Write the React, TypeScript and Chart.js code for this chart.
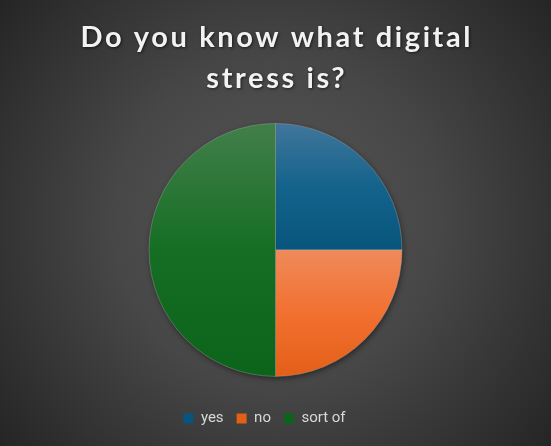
import React, { useEffect, useRef } from "react";
import { Chart, registerables } from "chart.js";

Chart.register(...registerables);

const titleLines = ["Do you know what digital", "stress is?"];
const categories = ["yes", "no", "sort of"];
const values = [25, 25, 50];
const topColors = ["#41769b", "#ef8a5b", "#427f4a"];
const midColors = ["#14638c", "#f27030", "#166e24"];
const bottomColors = ["#07557c", "#e35f18", "#0c631a"];

const W = 551;
const H = 446;

const bgPlugin = {
  id: "bg",
  afterLayout(chart: any) {
    const lg = chart.legend;
    if (lg) {
      lg.left -= 11;
      lg.right -= 11;
    }
  },
  beforeDraw(chart: any) {
    const { ctx } = chart;
    ctx.save();
    const g = ctx.createRadialGradient(W / 2, H / 2, 0, W / 2, H / 2, 360);
    g.addColorStop(0, "#575757");
    g.addColorStop(0.45, "#474747");
    g.addColorStop(1, "#242424");
    ctx.fillStyle = g;
    ctx.fillRect(0, 0, W, H);
    ctx.restore();
  },
  beforeDatasetsDraw(chart: any) {
    const meta = chart.getDatasetMeta(0);
    const arc = meta.data[0];
    if (!arc) return;
    const { ctx } = chart;
    ctx.save();
    ctx.shadowColor = "rgba(0,0,0,0.55)";
    ctx.shadowBlur = 6;
    ctx.shadowOffsetX = 1;
    ctx.shadowOffsetY = 2;
    ctx.fillStyle = "#333";
    ctx.beginPath();
    ctx.arc(arc.x, arc.y, arc.outerRadius - 0.5, 0, Math.PI * 2);
    ctx.fill();
    ctx.restore();
  },
  afterDraw(chart: any) {
    const { ctx } = chart;
    ctx.save();
    ctx.font = "bold 29px Lato";
    ctx.textAlign = "center";
    ctx.textBaseline = "alphabetic";
    const ls = 2.6;
    (ctx as any).letterSpacing = ls + "px";
    ctx.shadowColor = "rgba(0,0,0,0.6)";
    ctx.shadowBlur = 3;
    ctx.shadowOffsetX = 1;
    ctx.shadowOffsetY = 1;
    ctx.fillStyle = "#f2f2f2";
    titleLines.forEach((t, i) => {
      ctx.fillText(t, W / 2 + ls / 2, 47 + i * 41);
    });
    ctx.restore();
  },
};

function sliceExtent(i: number) {
  const total = values.reduce((a, b) => a + b, 0);
  let start = -Math.PI / 2;
  for (let k = 0; k < i; k++) start += (values[k] / total) * Math.PI * 2;
  const end = start + (values[i] / total) * Math.PI * 2;
  let minY = 0;
  let maxY = 0;
  const steps = 64;
  for (let s = 0; s <= steps; s++) {
    const a = start + ((end - start) * s) / steps;
    const y = Math.sin(a);
    minY = Math.min(minY, y);
    maxY = Math.max(maxY, y);
  }
  return [minY, maxY];
}

export default function App() {
  const ref = useRef<HTMLCanvasElement>(null);
  useEffect(() => {
    document.body.style.margin = "0";
    const canvas = ref.current!;
    const gradFor = (ctx: any, i: number) => {
      const chart = ctx.chart;
      const ca = chart.chartArea;
      if (!ca) return bottomColors[i];
      const cy = (ca.top + ca.bottom) / 2;
      const r = Math.min(ca.right - ca.left, ca.bottom - ca.top) / 2;
      const [mn, mx] = sliceExtent(i);
      const g = chart.ctx.createLinearGradient(0, cy + mn * r, 0, cy + mx * r);
      g.addColorStop(0, topColors[i]);
      g.addColorStop(0.5, midColors[i]);
      g.addColorStop(1, bottomColors[i]);
      return g;
    };
    const chart = new Chart(canvas, {
      type: "pie",
      data: {
        labels: categories,
        datasets: [
          {
            data: values,
            backgroundColor: (c: any) => gradFor(c, c.dataIndex),
            borderColor: "rgba(180,180,180,0.45)",
            borderWidth: 0.8,
            hoverOffset: 0,
          },
        ],
      },
      plugins: [bgPlugin],
      options: {
        responsive: false,
        animation: false,
        layout: { padding: { top: 123, bottom: 10, left: 0, right: 0 } },
        plugins: {
          title: { display: false },
          tooltip: { enabled: false },
          legend: {
            display: true,
            position: "bottom",
            title: {
              display: true,
              text: " ",
              font: { size: 1 },
              padding: { top: 20, bottom: 0 },
            },
            labels: {
              boxWidth: 10,
              boxHeight: 10,
              padding: 13,
              color: "#d9d9d9",
              font: { family: "Roboto", size: 15 },
              generateLabels: () =>
                categories.map((c, i) => ({
                  text: c,
                  fillStyle: bottomColors[i],
                  strokeStyle: "rgba(0,0,0,0)",
                  lineWidth: 0,
                  fontColor: "#d9d9d9",
                  hidden: false,
                  index: i,
                })),
            },
          },
        },
      },
    });
    return () => chart.destroy();
  }, []);
  return (
    <div style={{ position: "absolute", left: 0, top: 0, width: W, height: H }}>
      <canvas ref={ref} width={W} height={H} style={{ display: "block" }} />
    </div>
  );
}
